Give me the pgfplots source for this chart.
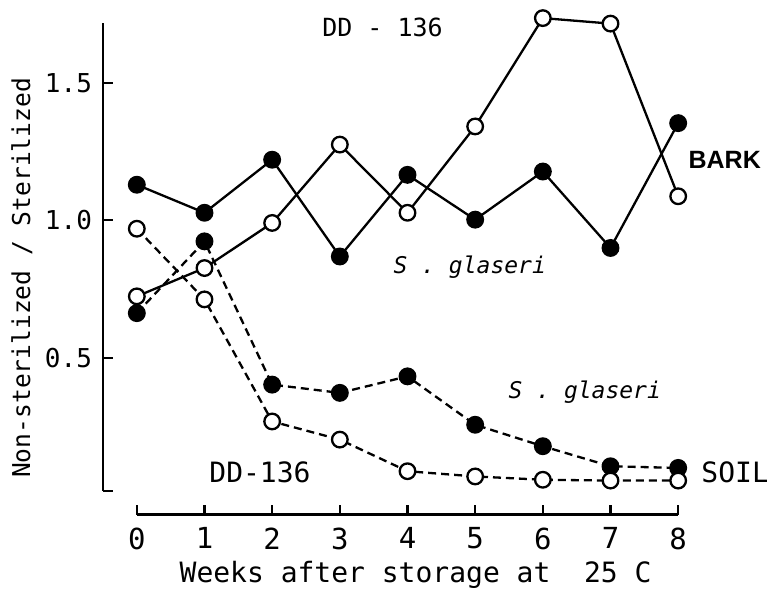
\documentclass[border=0pt]{standalone}
\usepackage{fontspec}
\setmainfont{DejaVu Sans Mono}
\newfontfamily\lsans{Liberation Sans}
\usepackage{pgfplots}
\pgfplotsset{compat=1.18}
\begin{document}
\begin{tikzpicture}
\begin{axis}[
  scale only axis, width=304.6pt, height=250.4pt,
  xmin=-0.5, xmax=8.5, ymin=-0.071, ymax=1.75,
  axis line style={draw=none},
  xtick={0,...,8}, ytick={0.5,1.0,1.5},
  yticklabels={0.5,1.0,1.5},
  extra y ticks={0.016}, extra y tick labels={},
  xtick pos=bottom, ytick pos=left, tick align=inside,
  major tick length=5pt,
  tick style={line width=1.1pt, black},
  /pgf/number format/assume math mode=true,
  xticklabel style={font=\fontsize{14.5}{14.5}\selectfont, yshift=-3pt},
  yticklabel style={font=\fontsize{13}{13}\selectfont, xshift=-2pt},
  clip=false,
  every axis plot/.append style={line width=1.15pt, mark size=3.9pt},
]
% BARK, S. glaseri
\addplot[black, mark=*, mark options={solid, fill=black}] coordinates {
 (0,1.129) (1,1.027) (2,1.22) (3,0.868) (4,1.165) (5,1.002) (6,1.177) (7,0.899) (8,1.353)};
% BARK, DD-136
\addplot[black, mark=*, mark options={solid, fill=white}] coordinates {
 (0,0.723) (1,0.826) (2,0.99) (3,1.275) (4,1.027) (5,1.341) (6,1.735) (7,1.715) (8,1.087)};
% SOIL, S. glaseri
\addplot[black, dash pattern=on 4pt off 2.5pt, mark=*, mark options={solid, fill=black}] coordinates {
 (0,0.662) (1,0.923) (2,0.402) (3,0.372) (4,0.432) (5,0.256) (6,0.178) (7,0.105) (8,0.099)};
% SOIL, DD-136
\addplot[black, dash pattern=on 4pt off 2.5pt, mark=*, mark options={solid, fill=white}] coordinates {
 (0,0.969) (1,0.712) (2,0.268) (3,0.202) (4,0.087) (5,0.068) (6,0.056) (7,0.053) (8,0.053)};
% axis lines
\draw[line width=1.3pt] (axis cs:0,-0.071) -- (axis cs:8,-0.071);
\draw[line width=1.3pt] (axis cs:-0.5,0.016) -- (axis cs:-0.5,1.718);
% labels
\node[font=\fontsize{12.5}{12.5}\selectfont] at (axis cs:3.63,1.70) {DD - 136};
\node[font=\lsans\bfseries\fontsize{12.5}{12.5}\selectfont, anchor=west] at (axis cs:8.05,1.22) {BARK};
\node[font=\itshape\fontsize{11.5}{11.5}\selectfont] at (axis cs:4.92,0.83) {S . glaseri};
\node[font=\itshape\fontsize{11.5}{11.5}\selectfont] at (axis cs:6.62,0.376) {S . glaseri};
\node[font=\fontsize{14}{14}\selectfont] at (axis cs:1.82,0.082) {DD-136};
\node[font=\fontsize{14}{14}\selectfont, anchor=west] at (axis cs:8.24,0.082) {SOIL};
\node[font=\fontsize{14}{14}\selectfont] at (axis cs:4.12,-0.289) {Weeks after storage at\ \ 25 C};
\node[font=\fontsize{12.3}{12.3}\selectfont, rotate=90] at (axis cs:-1.70,0.79) {Non-sterilized / Sterilized};
\end{axis}
\pgfresetboundingbox
\path ([shift={(-51.5pt,-39pt)}]current axis.south west) rectangle ([shift={(27.5pt,7pt)}]current axis.north east);
\end{tikzpicture}
\end{document}
